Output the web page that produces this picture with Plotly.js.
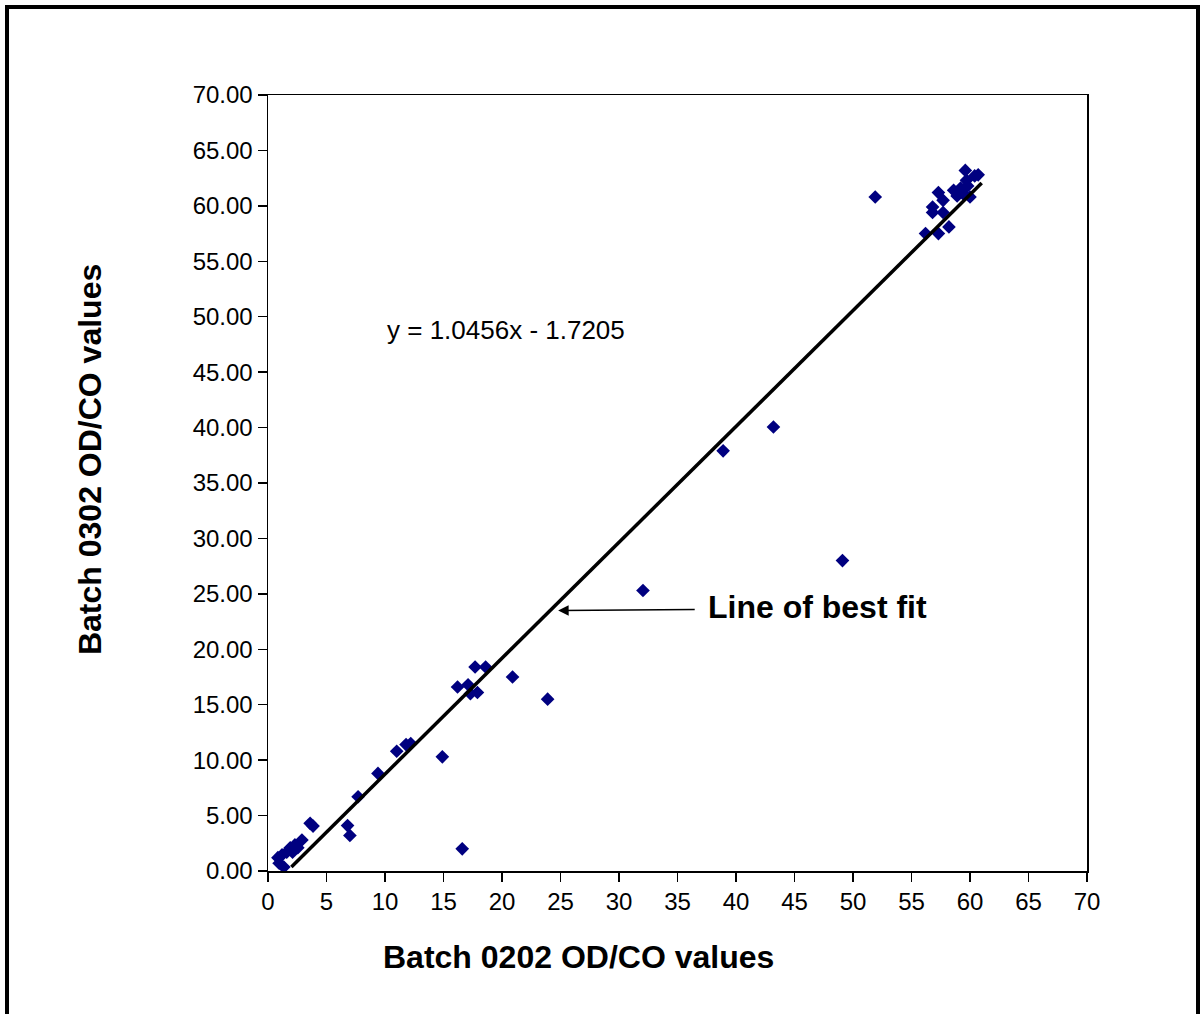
<!DOCTYPE html>
<html>
<head>
<meta charset="utf-8">
<script src="https://cdn.plot.ly/plotly-3.0.1.min.js"></script>
<style>
  html, body { margin: 0; padding: 0; background: #fff; }
  #frame { position: absolute; left: 5px; top: 5px; width: 1195px; height: 1100px; border: 4px solid #000; box-sizing: border-box; pointer-events: none; z-index: 10; }
  #chart { position: absolute; left: 0; top: 0; width: 1203px; height: 1014px; }
</style>
</head>
<body>
<div id="chart"></div>
<div id="frame"></div>
<script>
// Batch 0202 OD/CO values (x) vs Batch 0302 OD/CO values (y)
const batch0202 = [
  51.9, 56.2, 56.8, 56.8, 57.3, 57.7, 57.3, 57.7, 58.2, 58.6, 59.2, 59.6, 59.7, 60.4, 60.7, 59.4, 60.0, 58.9, 59.8,
  38.9, 43.2, 49.1, 32.05, 23.9, 20.9, 17.7, 18.6, 16.2, 17.1, 17.3, 17.9, 14.9, 16.6,
  12.2, 11.8, 11.0, 9.4, 7.7, 6.8, 7.0, 3.6, 3.85,
  2.9, 2.3, 1.9, 1.6, 1.2, 0.85, 0.95, 1.35, 2.1, 2.55
];
const batch0302 = [
  60.8, 57.5, 59.9, 59.4, 61.2, 60.5, 57.5, 59.4, 58.1, 61.4, 61.6, 63.2, 62.3, 62.7, 62.8, 61.1, 60.8, 60.9, 61.8,
  37.9, 40.05, 28.0, 25.3, 15.5, 17.5, 18.4, 18.4, 16.6, 16.8, 16.0, 16.1, 10.3, 2.0,
  11.5, 11.4, 10.8, 8.8, 6.7, 4.1, 3.2, 4.3, 4.05,
  2.8, 2.35, 2.1, 1.7, 1.45, 1.2, 0.7, 0.35, 1.7, 2.1
];
// Linear trendline reported on the chart: y = 1.0456x - 1.7205
const fitSlope = 1.0456;
const fitIntercept = -1.7205;
const fitRangeX = [2.0, 61.0];
const fitRangeY = fitRangeX.map(v => fitSlope * v + fitIntercept);

const xTicks = [0,5,10,15,20,25,30,35,40,45,50,55,60,65,70];
const yTicks = [0,5,10,15,20,25,30,35,40,45,50,55,60,65,70];

const FONT = 'Arial, "Liberation Sans", sans-serif';

const traces = [
  {
    x: batch0202, y: batch0302, type: 'scatter', mode: 'markers',
    marker: { symbol: 'diamond', size: 10.5, color: '#000080', line: { width: 0 } },
    showlegend: false
  },
  {
    x: fitRangeX, y: fitRangeY, type: 'scatter', mode: 'lines',
    line: { color: '#000', width: 3.5 }, hoverinfo: 'skip', showlegend: false
  }
];

const layout = {
  width: 1203, height: 1014,
  margin: { l: 268, r: 116, t: 95, b: 143 },
  paper_bgcolor: '#fff', plot_bgcolor: '#fff',
  showlegend: false,
  font: { family: FONT, size: 24, color: '#000' },
  xaxis: {
    range: [0, 70], tickvals: xTicks, ticktext: xTicks.map(String),
    showgrid: false, zeroline: false, showline: true, linecolor: '#000', linewidth: 1.5,
    mirror: true, ticks: 'outside', ticklen: 9, tickwidth: 1.5, tickcolor: '#000',
    tickfont: { family: FONT, size: 24, color: '#000' }
  },
  yaxis: {
    range: [0, 70], tickvals: yTicks, ticktext: yTicks.map(v => v.toFixed(2)),
    showgrid: false, zeroline: false, showline: true, linecolor: '#000', linewidth: 1.5,
    mirror: true, ticks: 'outside', ticklen: 9, tickwidth: 1.5, tickcolor: '#000',
    tickfont: { family: FONT, size: 24, color: '#000' }
  },
  annotations: [
    {
      xref: 'paper', yref: 'paper', x: 0.3797, y: -0.1108, xanchor: 'center', yanchor: 'middle',
      text: '<b>Batch 0202 OD/CO values</b>', showarrow: false,
      font: { family: FONT, size: 32, color: '#000' }
    },
    {
      xref: 'paper', yref: 'paper', x: -0.2173, y: 0.5296, xanchor: 'center', yanchor: 'middle',
      text: '<b>Batch 0302 OD/CO values</b>', showarrow: false, textangle: -90,
      font: { family: FONT, size: 32, color: '#000' }
    },
    {
      xref: 'x', yref: 'y', x: 20.3, y: 48.8, xanchor: 'center', yanchor: 'middle',
      text: 'y = 1.0456x - 1.7205', showarrow: false,
      font: { family: FONT, size: 26, color: '#000' }
    },
    {
      xref: 'x', yref: 'y', x: 37.4, y: 23.8, xanchor: 'left', yanchor: 'middle',
      text: '<b>Line of best fit</b>', showarrow: false,
      font: { family: FONT, size: 32, color: '#000' }
    },
    {
      xref: 'x', yref: 'y', x: 24.8, y: 23.5, axref: 'x', ayref: 'y', ax: 36.6, ay: 23.6,
      text: '', showarrow: true, arrowhead: 2, arrowsize: 1.4, arrowwidth: 1.5, arrowcolor: '#000'
    }
  ]
};

Plotly.newPlot('chart', traces, layout, { staticPlot: true, displayModeBar: false });
</script>
</body>
</html>
